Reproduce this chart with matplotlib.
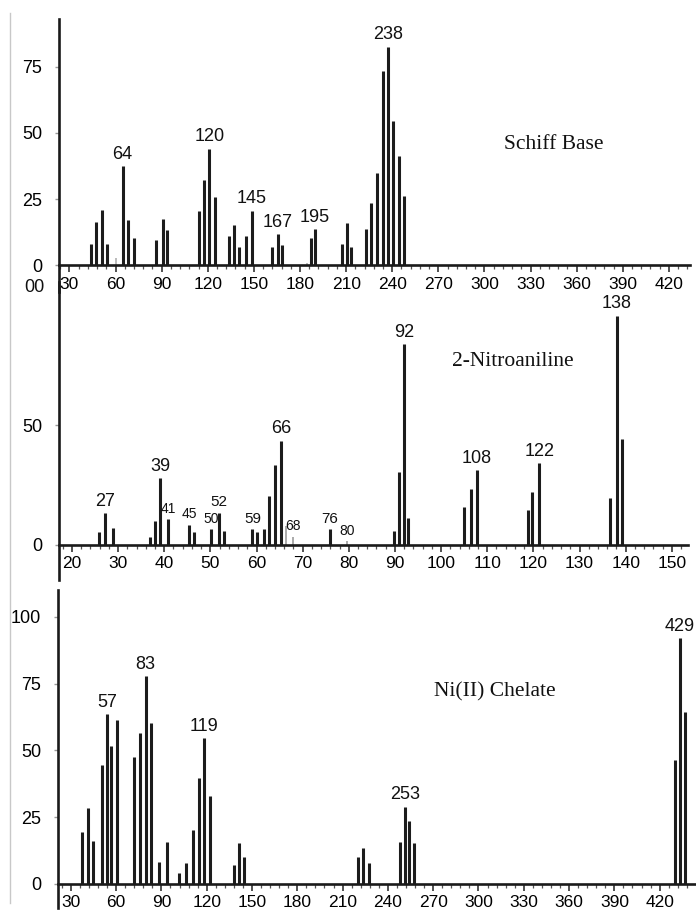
import matplotlib
matplotlib.use("Agg")
import matplotlib.pyplot as plt
from matplotlib.lines import Line2D
from matplotlib.ticker import MultipleLocator

plt.rcParams["font.family"] = ["Liberation Sans", "DejaVu Sans"]

W, H, DPI = 696, 913, 100

# --- Schiff base spectrum (m/z, relative intensity) ---
schiff_mz = [44.0, 47.0, 51.0, 54.6, 64.6, 68.3, 71.8, 86.5, 90.6, 93.4,
             114.1, 117.5, 121.0, 124.7, 133.5, 137.2, 140.2, 144.7, 148.6,
             162.0, 165.5, 168.5, 187.0, 189.8, 207.2, 210.6, 213.4,
             222.9, 226.3, 230.4, 233.9, 237.1, 240.4, 244.1, 247.6]
schiff_int = [8.1, 16.4, 20.9, 8.2, 37.5, 17.2, 10.3, 9.7, 17.7, 13.4,
              20.7, 32.3, 44.0, 25.7, 11.0, 15.3, 7.1, 11.0, 20.6,
              7.1, 11.8, 7.9, 10.5, 13.7, 8.1, 16.2, 6.9,
              13.7, 23.5, 34.8, 73.4, 82.6, 54.5, 41.3, 26.2]
schiff_faint_mz = [60.3, 184.3]
schiff_faint_int = [2.7, 0.8]
schiff_labels = ["64", "120", "145", "167", "195", "238"]
schiff_label_mz = [64.6, 121.0, 148.6, 165.5, 189.8, 237.1]

# --- 2-Nitroaniline spectrum ---
nitro_mz = [25.9, 27.2, 28.8, 36.9, 38.0, 39.1, 40.8, 45.4, 46.4, 50.1,
            51.9, 53.0, 59.1, 60.2, 61.7, 62.8, 64.1, 65.3, 75.9, 89.8,
            90.9, 92.0, 92.9, 105.0, 106.4, 107.8, 118.8, 119.8, 121.3,
            136.7, 138.1, 139.2]
nitro_int = [5.3, 13.2, 7.0, 3.2, 9.9, 27.8, 10.7, 8.5, 5.4, 6.5,
             13.5, 6.0, 6.5, 5.4, 6.8, 20.4, 33.3, 43.5, 6.5, 6.0,
             30.3, 83.6, 11.4, 15.8, 23.3, 31.2, 14.6, 21.9, 34.0,
             19.4, 95.6, 44.2]
nitro_faint_mz = [66.3, 68.0, 79.6]
nitro_faint_int = [8.0, 3.5, 1.5]
nitro_labels = ["27", "39", "41", "45", "50", "52", "59", "66", "68", "76",
                "80", "92", "108", "122", "138"]
nitro_label_mz = [27.2, 39.1, 40.8, 45.4, 50.1, 51.9, 59.1, 65.3, 68.0, 75.9,
                  79.6, 92.0, 107.8, 121.3, 138.1]
nitro_label_size = [13, 13, 10, 10, 10, 11, 11, 13, 10, 11,
                    10, 13, 13, 13, 13]

# --- Ni(II) chelate spectrum ---
ni_mz = [37.6, 41.2, 44.9, 50.5, 54.0, 56.8, 60.4, 72.1, 75.8, 79.6,
         82.9, 88.2, 93.7, 101.5, 106.3, 111.1, 114.9, 118.4, 122.0,
         137.9, 141.4, 144.5, 220.4, 223.7, 227.5, 248.0, 251.3, 254.2,
         257.1, 430.1, 433.4, 436.6]
ni_int = [19.5, 28.3, 16.2, 44.6, 63.6, 51.8, 61.2, 47.6, 56.4, 77.8,
          60.1, 8.2, 15.8, 4.2, 7.7, 20.2, 39.7, 54.5, 32.9,
          7.1, 15.2, 10.0, 10.2, 13.6, 8.0, 15.8, 28.9, 23.6,
          15.5, 46.4, 91.9, 64.5]
ni_labels = ["57", "83", "119", "253", "429"]
ni_label_mz = [54.0, 79.6, 118.4, 251.3, 433.4]

fig = plt.figure(figsize=(W / DPI, H / DPI), dpi=DPI)


def px_rect(left, top, right, bottom):
    return [left / W, 1 - bottom / H, (right - left) / W, (bottom - top) / H]


def make_panel(rect, xlim, ylim, xmajor, xminor, yticks):
    ax = fig.add_axes(rect, facecolor="none")
    ax.set_xlim(*xlim)
    ax.set_ylim(*ylim)
    for side in ("top", "right"):
        ax.spines[side].set_visible(False)
    ax.spines["bottom"].set_position(("data", 0))
    for side in ("bottom", "left"):
        ax.spines[side].set_linewidth(1.9)
        ax.spines[side].set_color("#1a1a1a")
    ax.xaxis.set_major_locator(MultipleLocator(xmajor))
    ax.xaxis.set_minor_locator(MultipleLocator(xminor))
    ax.set_yticks(yticks)
    ax.tick_params(axis="x", which="major", direction="out", length=5,
                   width=1.2, pad=3, labelsize=12.5, color="#333333")
    ax.tick_params(axis="x", which="minor", direction="out", length=3,
                   width=0.9, color="#555555")
    ax.tick_params(axis="y", direction="out", length=3, width=1,
                   color="#999999", pad=9, labelsize=13)
    return ax


def draw_bars(ax, mz, inten, color="#1c1c1c", lw=2.2):
    ax.vlines(mz, 0, inten, colors=color, linewidth=lw)


def draw_labels(ax, labels, anchors, mz, inten, sizes=None):
    for i, (txt, m) in enumerate(zip(labels, anchors)):
        j = min(range(len(mz)), key=lambda k: abs(mz[k] - m))
        size = sizes[i] if sizes else 13
        ax.annotate(txt, xy=(mz[j], inten[j]), xytext=(0, 2.5),
                    textcoords="offset points", ha="center", va="bottom",
                    fontsize=size, color="#111111")


# Top: Schiff base
ax1 = make_panel(px_rect(59, 19, 690, 292), (23.2, 433.7), (-10.0, 93.0),
                 30, 6, [0, 25, 50, 75])
ax1.set_xticks(range(30, 421, 30))
draw_bars(ax1, schiff_mz, schiff_int)
draw_bars(ax1, schiff_faint_mz, schiff_faint_int, color="#bbbbbb", lw=1.4)
draw_labels(ax1, schiff_labels, schiff_label_mz, schiff_mz, schiff_int)
ax1.text(345, 45.5, "Schiff Base", family="Liberation Serif", fontsize=15.5,
         ha="center", va="center", color="#111111")

# Middle: 2-Nitroaniline
ax2 = make_panel(px_rect(59, 282, 688, 580), (17.2, 153.5), (-14.6, 109.6),
                 10, 2, [0, 50])
ax2.set_xticks(range(20, 151, 10))
draw_bars(ax2, nitro_mz, nitro_int)
draw_bars(ax2, nitro_faint_mz, nitro_faint_int, color="#aaaaaa", lw=1.4)
all_mz = nitro_mz + nitro_faint_mz
all_int = nitro_int + nitro_faint_int
draw_labels(ax2, nitro_labels, nitro_label_mz, all_mz, all_int, nitro_label_size)
ax2.text(115.6, 76.3, "2-Nitroaniline", family="Liberation Serif",
         fontsize=15.5, ha="center", va="center", color="#111111")
# partly hidden "100" tick label at the top of the middle panel
ax2.annotate("00", xy=(0, 107.5), xycoords=ax2.get_yaxis_transform(),
             xytext=(-10.5, 0), textcoords="offset points", ha="right",
             va="center", fontsize=13, color="#111111")

# Bottom: Ni(II) chelate
ax3 = make_panel(px_rect(58, 590, 695, 908), (21.5, 443.4), (-9.0, 110.0),
                 30, 6, [0, 25, 50, 75, 100])
ax3.set_xticks(range(30, 421, 30))
draw_bars(ax3, ni_mz, ni_int)
draw_labels(ax3, ni_labels, ni_label_mz, ni_mz, ni_int)
ax3.text(310.5, 71.8, "Ni(II) Chelate", family="Liberation Serif",
         fontsize=15.5, ha="center", va="center", color="#111111")

# thin grey border line at the far left of the image
fig.add_artist(Line2D([10 / W, 10 / W], [1 - 13 / H, 1 - 903 / H],
                      color="#c8c8c8", linewidth=1))

fig.savefig("out.png", dpi=DPI)
